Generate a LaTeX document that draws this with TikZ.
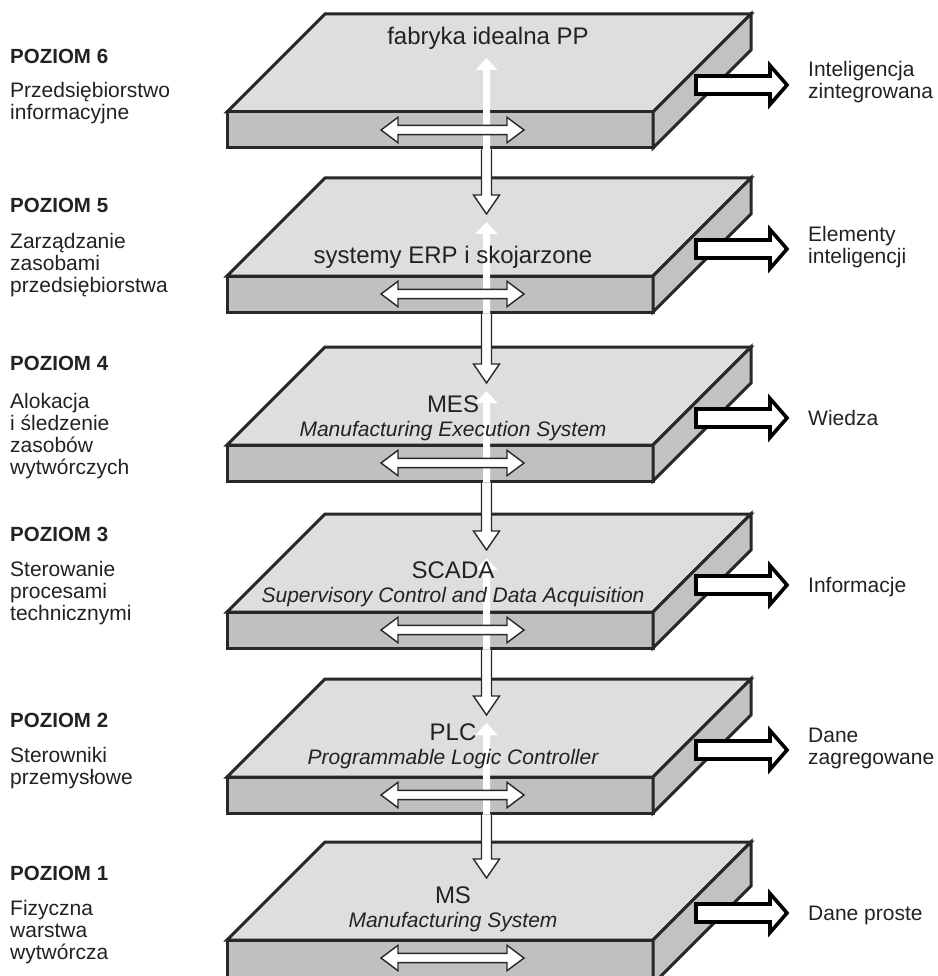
\documentclass[tikz,border=0pt]{standalone}
\usepackage{fontspec}
\setmainfont{Liberation Sans}
\usetikzlibrary{calc}
\definecolor{topc}{HTML}{DEDEDE}
\definecolor{frontc}{HTML}{C0C0C0}
\definecolor{sidec}{HTML}{C2C2C2}
\definecolor{edgec}{HTML}{282828}
\definecolor{txtc}{HTML}{222222}

\tikzset{
  slabline/.style={draw=edgec, line width=3pt, line join=miter},
  conn/.style={draw=edgec, fill=white, line width=1.4pt, line join=miter},
  outarrow/.style={draw=black, fill=white, line width=3.6pt, line join=miter},
  lvl/.style={anchor=base west, inner sep=0pt, text=txtc, font=\fontsize{20.5}{22}\selectfont\bfseries},
  lvltext/.style={anchor=base west, inner sep=0pt, text=txtc, font=\fontsize{21}{22}\selectfont},
  outtext/.style={anchor=base west, inner sep=0pt, text=txtc, font=\fontsize{21}{22}\selectfont},
  slabtext/.style={anchor=base, inner sep=0pt, text=txtc, font=\fontsize{24}{24}\selectfont},
}

\newcommand\slab[3][36]{%
  \filldraw[slabline, fill=topc] (227,#3) -- (325,#3-98) -- (751,#3-98) -- (653,#3) -- cycle;
  \filldraw[slabline, fill=frontc] (227,#3) rectangle (653,#3+#1);
  \filldraw[slabline, fill=sidec] (653,#3) -- (751,#3-98) -- (751,#3-98+#1) -- (653,#3+#1) -- cycle;
  \coordinate (#2-bot) at (486.5,#3+37.5);
  \coordinate (#2-in) at (486.5,#3-62);
  \coordinate (#2-up) at (486.5,#3-54);
  \coordinate (#2-mid) at (452.5,#3+18);
  \coordinate (#2-out) at (696,#3-27);
  \coordinate (#2-tip) at (787,#3-27);
}
\newcommand\whiteup[2]{%
  \fill[white] let \p1=(#1), \p2=(#2) in
    (\x1-3.5pt,\y1) -- (\x1-3.5pt,\y2-12pt) -- (\x1-11pt,\y2-12pt) -- (\x2,\y2)
    -- (\x1+11pt,\y2-12pt) -- (\x1+3.5pt,\y2-12pt) -- (\x1+3.5pt,\y1) -- cycle;
}
\newcommand\hdouble[1]{%
  \draw[conn] let \p1=(#1) in
    (\x1-71.5pt,\y1) -- (\x1-54.5pt,\y1+12.7pt) -- (\x1-54.5pt,\y1+4.6pt)
    -- (\x1+54.5pt,\y1+4.6pt) -- (\x1+54.5pt,\y1+12.7pt) -- (\x1+71.5pt,\y1)
    -- (\x1+54.5pt,\y1-12.7pt) -- (\x1+54.5pt,\y1-4.6pt) -- (\x1-54.5pt,\y1-4.6pt)
    -- (\x1-54.5pt,\y1-12.7pt) -- cycle;
}
\newcommand\downconn[2]{%
  \draw[conn] let \p1=(#1), \p2=(#2) in
    (\x1-5pt,\y1) -- (\x1-5pt,\y2+19pt) -- (\x1-13pt,\y2+19pt) -- (\x2,\y2)
    -- (\x1+13pt,\y2+19pt) -- (\x1+5pt,\y2+19pt) -- (\x1+5pt,\y1);
}
\newcommand\outarr[2]{%
  \draw[outarrow] let \p1=(#1), \p2=(#2) in
    (\x1,\y1+9pt) -- (\x2-17pt,\y1+9pt) -- (\x2-17pt,\y1+19.5pt) -- (\x2,\y2)
    -- (\x2-17pt,\y1-19.5pt) -- (\x2-17pt,\y1-9pt) -- (\x1,\y1-9pt) -- cycle;
}
\newcommand\twol[2]{\begin{tabular}[t]{@{}l@{}}#1\\#2\end{tabular}}
\newcommand\threel[3]{\begin{tabular}[t]{@{}l@{}}#1\\#2\\#3\end{tabular}}
\newcommand\fourl[4]{\begin{tabular}[t]{@{}l@{}}#1\\#2\\#3\\#4\end{tabular}}
\newcommand\slabtwo[2]{\begin{tabular}[t]{@{}c@{}}#1\\\fontsize{21}{24}\selectfont\itshape #2\end{tabular}}

\begin{document}
\begin{tikzpicture}[x=1pt,y=-1pt]
\useasboundingbox (0,0) rectangle (937,976);
\fill[white] (0,0) rectangle (937,976);
\clip (0,0) rectangle (937,976);

% slabs
\slab{s6}{112}
\slab{s5}{276}
\slab{s4}{445}
\slab{s3}{612}
\slab{s2}{777}
\slab[44]{s1}{940}

% white upward arrows
\whiteup{s6-bot}{s6-up}
\whiteup{s5-bot}{s5-up}
\whiteup{s4-bot}{s4-up}
\whiteup{s3-bot}{s3-up}
\whiteup{s2-bot}{s2-up}

% horizontal double arrows
\hdouble{s6-mid}
\hdouble{s5-mid}
\hdouble{s4-mid}
\hdouble{s3-mid}
\hdouble{s2-mid}
\hdouble{s1-mid}

% connectors between levels
\downconn{s6-bot}{s5-in}
\downconn{s5-bot}{s4-in}
\downconn{s4-bot}{s3-in}
\downconn{s3-bot}{s2-in}
\downconn{s2-bot}{s1-in}

% output arrows
\outarr{s6-out}{s6-tip}
\outarr{s5-out}{s5-tip}
\outarr{s4-out}{s4-tip}
\outarr{s3-out}{s3-tip}
\outarr{s2-out}{s2-tip}
\outarr{s1-out}{s1-tip}

% slab texts
\node[slabtext] (t6) at (488,45) {fabryka idealna PP};
\node[slabtext] (t5) at (453,263) {systemy ERP i skojarzone};
\node[slabtext] (t4) at (453,412) {\slabtwo{MES}{Manufacturing Execution System}};
\node[slabtext] (t3) at (453,578) {\slabtwo{SCADA}{Supervisory Control and Data Acquisition}};
\node[slabtext] (t2) at (453,740) {\slabtwo{PLC}{Programmable Logic Controller}};
\node[slabtext] (t1) at (453,903) {\slabtwo{MS}{Manufacturing System}};

% left labels
\node[lvl] (p6) at (10,64) {POZIOM 6};
\node[lvltext] (d6) at (10,98) {\twol{Przedsiębiorstwo}{informacyjne}};
\node[lvl] (p5) at (10,213) {POZIOM 5};
\node[lvltext] (d5) at (10,248) {\threel{Zarządzanie}{zasobami}{przedsiębiorstwa}};
\node[lvl] (p4) at (10,370) {POZIOM 4};
\node[lvltext] (d4) at (10,408) {\fourl{Alokacja}{i śledzenie}{zasobów}{wytwórczych}};
\node[lvl] (p3) at (10,541) {POZIOM 3};
\node[lvltext] (d3) at (10,576) {\threel{Sterowanie}{procesami}{technicznymi}};
\node[lvl] (p2) at (10,727) {POZIOM 2};
\node[lvltext] (d2) at (10,762) {\twol{Sterowniki}{przemysłowe}};
\node[lvl] (p1) at (10,880) {POZIOM 1};
\node[lvltext] (d1) at (10,915) {\threel{Fizyczna}{warstwa}{wytwórcza}};

% right labels
\node[outtext] (o6) at (808,77) {\twol{Inteligencja}{zintegrowana}};
\node[outtext] (o5) at (808,241) {\twol{Elementy}{inteligencji}};
\node[outtext] (o4) at (808,425) {Wiedza};
\node[outtext] (o3) at (808,592) {Informacje};
\node[outtext] (o2) at (808,742) {\twol{Dane}{zagregowane}};
\node[outtext] (o1) at (808,920) {Dane proste};
\end{tikzpicture}
\end{document}
